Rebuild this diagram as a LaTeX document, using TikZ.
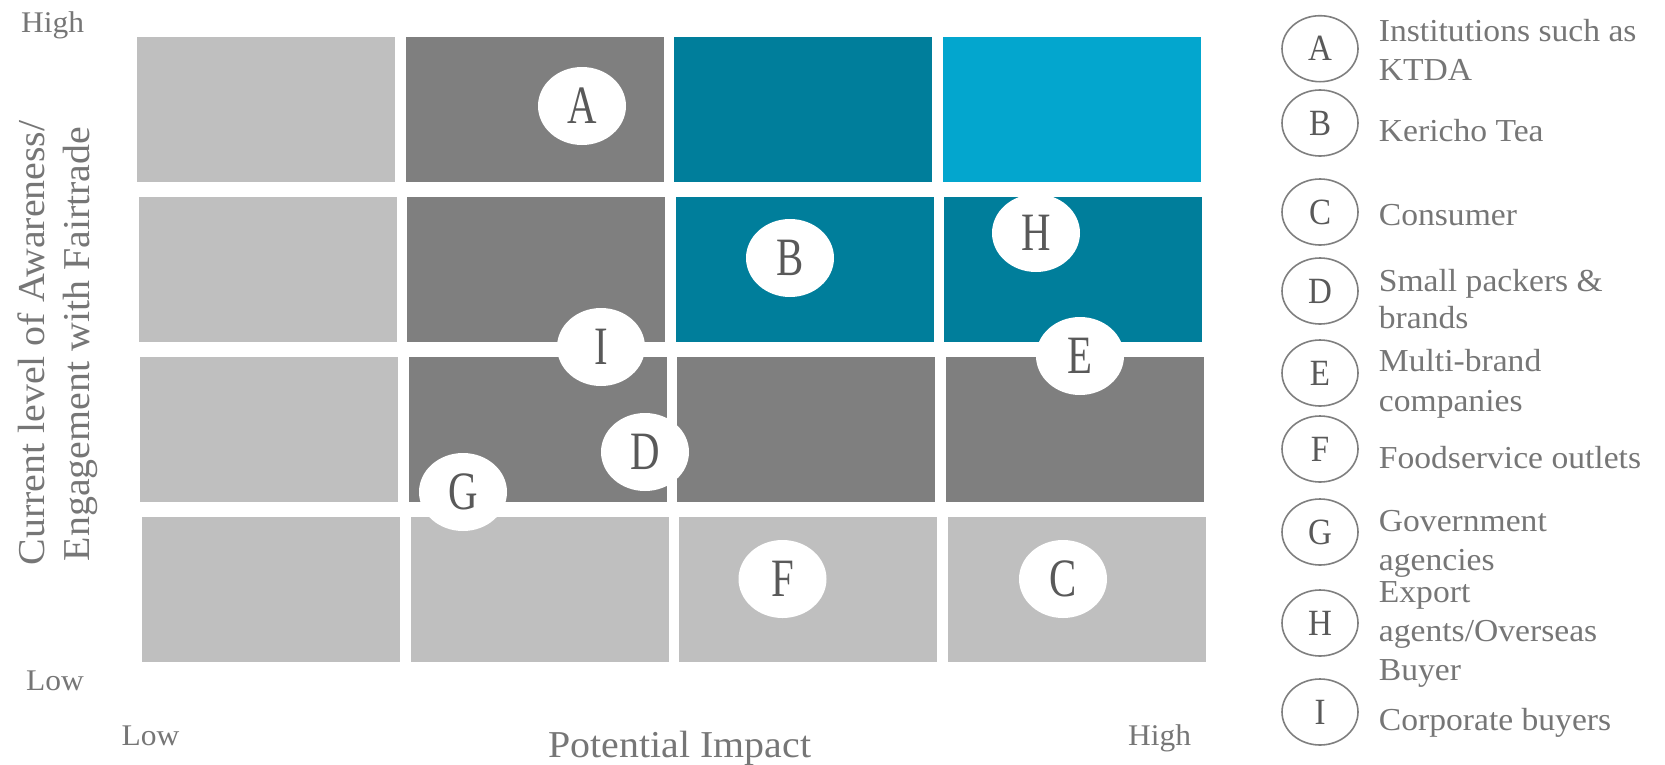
\documentclass[tikz,border=0pt]{standalone}
\usepackage{fontspec}
\setmainfont{Liberation Serif}[FakeStretch=1.05]
\usepackage{graphicx}
\usetikzlibrary{shapes.geometric}
\definecolor{lgrey}{HTML}{BFBFBF}
\definecolor{dgrey}{HTML}{7F7F7F}
\definecolor{cteal}{HTML}{007E9B}
\definecolor{csky}{HTML}{03A6CE}
\definecolor{txtgrey}{HTML}{767676}
\definecolor{ltrgrey}{HTML}{595959}
\begin{document}
\begin{tikzpicture}[x=1pt,y=-1pt,
  cell/.style={rectangle, anchor=north west, inner sep=0pt, outer sep=0pt,
    minimum width=258pt, minimum height=144.7pt, draw=none},
  spot/.style={ellipse, fill=white, minimum width=88pt, minimum height=78pt,
    inner sep=0pt, text=ltrgrey, font=\fontsize{54}{54}\selectfont},
  keyell/.style={ellipse, draw=dgrey, line width=1.6pt, fill=white,
    minimum width=76pt, minimum height=66pt, inner sep=0pt, text=ltrgrey,
    font=\fontsize{37}{37}\selectfont},
  lab/.style={anchor=base west, inner sep=0pt, text=txtgrey,
    font=\fontsize{32}{32}\selectfont},
  axlab/.style={anchor=base west, inner sep=0pt, text=txtgrey,
    font=\fontsize{30}{30}\selectfont},
  bigl/.style={inner sep=0pt, text=txtgrey, font=\fontsize{38}{38}\selectfont}]
\useasboundingbox (0,0) rectangle (1665,764);
% grid cells
\foreach \col [count=\c from 0] in {lgrey,dgrey,cteal,csky}
  \node[cell, fill=\col] (r0c\c) at ({137+268.5*\c},37) {};
\foreach \col [count=\c from 0] in {lgrey,dgrey,cteal,cteal}
  \node[cell, fill=\col] (r1c\c) at ({137+268.5*\c+1.7},197) {};
\foreach \col [count=\c from 0] in {lgrey,dgrey,dgrey,dgrey}
  \node[cell, fill=\col] (r2c\c) at ({137+268.5*\c+3.4},357) {};
\foreach \col [count=\c from 0] in {lgrey,lgrey,lgrey,lgrey}
  \node[cell, fill=\col] (r3c\c) at ({137+268.5*\c+5.1},517) {};
% positioned stakeholders
\node[spot] (sA) at (582,106) {\scalebox{0.72}[1]{A}};
\node[spot] (sB) at (790,258) {\scalebox{0.72}[1]{B}};
\node[spot] (sH) at (1036,233) {\scalebox{0.72}[1]{H}};
\node[spot] (sE) at (1080,356) {\scalebox{0.72}[1]{E}};
\node[spot] (sI) at (601,347) {\scalebox{0.72}[1]{I}};
\node[spot] (sD) at (645,452) {\scalebox{0.72}[1]{D}};
\node[spot] (sG) at (463,492) {\scalebox{0.72}[1]{G}};
\node[spot] (sF) at (782.5,579) {\scalebox{0.72}[1]{F}};
\node[spot] (sC) at (1063,579) {\scalebox{0.72}[1]{C}};
% axis labels
\node[axlab] (yhigh) at (21,32.3) {High};
\node[axlab] (ylow) at (26,690) {Low};
\node[axlab] (xlow) at (121.4,745) {Low};
\node[axlab] (xhigh) at (1128,745) {High};
\node[bigl, anchor=base west] (xtitle) at (548.3,757.7) {Potential Impact};
\node[bigl, anchor=base, rotate=90] (ytitle1) at (44.6,343) {Current level of Awareness/};
\node[bigl, anchor=base, rotate=90] (ytitle2) at (89,344) {Engagement with Fairtrade};
% legend
\node[keyell] (kA) at (1320,48.7) {\scalebox{0.85}[1]{A}};
\node[keyell] (kB) at (1320,123) {\scalebox{0.85}[1]{B}};
\node[keyell] (kC) at (1320,212) {\scalebox{0.85}[1]{C}};
\node[keyell] (kD) at (1320,291) {\scalebox{0.85}[1]{D}};
\node[keyell] (kE) at (1320,373) {\scalebox{0.85}[1]{E}};
\node[keyell] (kF) at (1320,449) {\scalebox{0.85}[1]{F}};
\node[keyell] (kG) at (1320,532) {\scalebox{0.85}[1]{G}};
\node[keyell] (kH) at (1320,623) {\scalebox{0.85}[1]{H}};
\node[keyell] (kI) at (1320,712) {\scalebox{0.85}[1]{I}};
\node[lab] (tA1) at (1378.7,41.7) {Institutions such as};
\node[lab] (tA2) at (1378.7,80) {KTDA};
\node[lab] (tB) at (1378.7,141.7) {Kericho Tea};
\node[lab] (tC) at (1378.7,225) {Consumer};
\node[lab] (tD1) at (1378.7,291.7) {Small packers \&};
\node[lab] (tD2) at (1378.7,328) {brands};
\node[lab] (tE1) at (1378.7,371.7) {Multi-brand};
\node[lab] (tE2) at (1378.7,411.7) {companies};
\node[lab] (tF) at (1378.7,468.3) {Foodservice outlets};
\node[lab] (tG1) at (1378.7,531.7) {Government};
\node[lab] (tG2) at (1378.7,570) {agencies};
\node[lab] (tH1) at (1378.7,602.7) {Export};
\node[lab] (tH2) at (1378.7,641.7) {agents/Overseas};
\node[lab] (tH3) at (1378.7,680) {Buyer};
\node[lab] (tI) at (1378.7,730) {Corporate buyers};
\end{tikzpicture}
\end{document}
